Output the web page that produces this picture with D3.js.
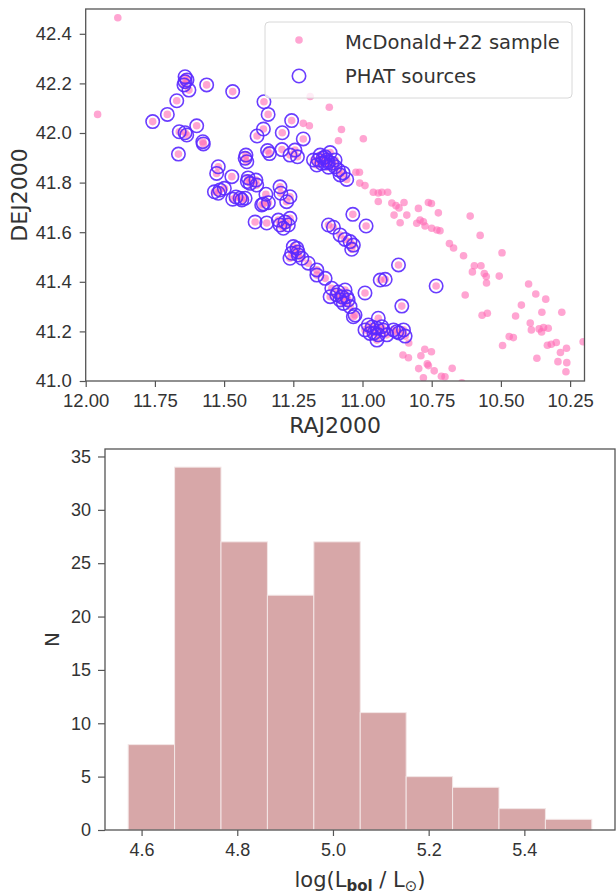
<!DOCTYPE html>
<html><head><meta charset="utf-8">
<script src="https://cdn.jsdelivr.net/npm/d3@7"></script>
<style>
body{margin:0;background:#fff}
svg{display:block}
</style>
</head><body>
<svg id="fig" width="616" height="894"></svg>
<script>
// PHAT sources (degrees)
const phatRA = [11.641,11.641,11.645,11.627,11.563,11.469,11.671,11.705,11.758,11.599,11.662,11.641,11.635,11.577,11.575,11.665,
  11.421,11.424,11.418,11.521,11.527,11.472,11.416,11.385,11.382,11.406,11.535,11.521,11.499,11.469,11.442,11.424,11.436,
  11.349,11.358,11.340,11.364,11.298,11.295,11.262,11.274,11.356,11.341,11.358,11.381,11.290,11.256,11.214,11.343,11.336,
  11.291,11.262,11.244,11.235,11.177,11.153,11.135,11.117,11.165,11.147,11.129,11.111,11.123,11.099,11.087,11.081,11.057,
  11.142,11.160,11.388,11.346,11.304,11.298,11.286,11.262,11.268,11.250,11.256,11.232,11.219,11.262,11.237,11.196,11.165,
  11.165,11.135,11.035,10.987,11.123,11.105,11.081,11.063,11.045,11.033,11.039,11.111,11.117,11.093,11.063,11.081,11.069,
  11.057,11.045,11.027,11.033,10.991,11.088,10.870,10.936,10.918,10.734,10.858,10.943,10.979,10.991,10.973,10.948,10.943,
  10.930,10.948,10.912,10.888,10.876,10.852,10.846,10.965,11.634,11.099,11.124,11.070,11.413,11.280,11.233,11.074,11.052,
  10.926,10.958,10.868,11.457,11.515,11.135];
const phatDec = [42.227,42.207,42.194,42.173,42.194,42.167,42.130,42.075,42.046,42.029,42.005,42.001,41.992,41.965,41.956,41.915,
  41.911,41.898,41.884,41.864,41.837,41.824,41.804,41.810,41.790,41.797,41.763,41.757,41.777,41.733,41.737,41.737,41.730,
  41.753,41.714,41.719,41.710,41.783,41.757,41.743,41.723,42.126,42.075,42.016,41.988,42.001,42.050,41.976,41.929,41.917,
  41.933,41.911,41.931,41.904,41.891,41.911,41.904,41.921,41.871,41.878,41.891,41.878,41.862,41.864,41.851,41.831,41.813,
  41.899,41.891,41.641,41.637,41.649,41.629,41.616,41.656,41.629,41.542,41.515,41.508,41.495,41.495,41.535,41.475,41.448,
  41.427,41.414,41.672,41.625,41.629,41.620,41.589,41.571,41.562,41.548,41.531,41.374,41.340,41.347,41.367,41.327,41.313,
  41.340,41.300,41.266,41.259,41.355,41.359,41.468,41.407,41.410,41.383,41.302,41.253,41.226,41.206,41.192,41.213,41.186,
  41.219,41.165,41.186,41.206,41.199,41.206,41.181,41.218,42.214,41.891,41.883,41.839,41.819,41.641,41.520,41.339,41.327,
  41.206,41.194,41.194,41.742,41.770,41.879];

// McDonald+22 sources with no PHAT counterpart (degrees)
const otherRA = [11.884,11.957,11.189,11.120,11.214,11.192,11.076,11.087,10.997,11.024,11.011,11.010,10.991,10.961,10.943,10.930,
  10.909,10.943,10.894,10.879,10.850,10.868,10.798,10.762,10.751,10.726,10.611,10.886,10.840,10.864,10.804,10.792,10.780,
  10.774,10.750,10.731,10.720,10.575,10.686,10.671,10.635,10.496,10.596,10.572,10.603,10.560,10.553,10.552,10.506,10.629,
  10.568,10.549,10.400,10.374,10.338,10.426,10.352,10.280,10.447,10.394,10.390,10.362,10.353,10.346,10.329,10.470,10.455,
  10.494,10.332,10.318,10.300,10.370,10.263,10.285,10.294,10.262,10.265,10.203,10.854,10.834,10.833,10.789,10.775,10.751,
  10.766,10.762,10.797,10.741,10.715,10.702,10.676,10.780,10.641];
const otherDec = [42.465,42.075,42.147,42.104,42.039,42.029,42.014,41.969,41.977,41.842,41.842,41.798,41.788,41.761,41.758,41.761,
  41.761,41.724,41.718,41.707,41.720,41.698,41.696,41.720,41.716,41.678,41.665,41.669,41.669,41.638,41.636,41.649,41.642,
  41.625,41.616,41.609,41.606,41.587,41.554,41.536,41.505,41.517,41.465,41.465,41.440,41.433,41.421,41.395,41.423,41.347,
  41.265,41.273,41.391,41.351,41.330,41.306,41.277,41.277,41.262,41.234,41.206,41.210,41.198,41.216,41.213,41.179,41.175,
  41.143,41.144,41.148,41.155,41.092,41.132,41.115,41.078,41.074,41.037,41.158,41.105,41.094,41.153,41.102,41.128,41.118,
  41.069,41.062,41.050,41.041,41.019,41.017,41.051,41.013,40.993];

const raTicks = [12.00, 11.75, 11.50, 11.25, 11.00, 10.75, 10.50, 10.25];
const decTicks = [41.0, 41.2, 41.4, 41.6, 41.8, 42.0, 42.2, 42.4];

// Bolometric luminosity histogram of the PHAT sources
const binEdges = [4.572, 4.669, 4.766, 4.863, 4.960, 5.057, 5.153, 5.250, 5.347, 5.444, 5.541];
const binCounts = [8, 34, 27, 22, 27, 11, 5, 4, 2, 1];
const lumTicks = [4.6, 4.8, 5.0, 5.2, 5.4];
const countTicks = [0, 5, 10, 15, 20, 25, 30, 35];

const svg = d3.select("#fig");
const TICKFONT = "'Liberation Sans', Arial, sans-serif";
const LABELFONT = "'DejaVu Sans', sans-serif";
const INK = "#333";
const SPINE = "#555";
const PINK = "#ff69b4";
const VIOLET = "#5a28ff";

function styleAxis(g, size) {
  g.select(".domain").remove();
  g.selectAll(".tick line").attr("stroke", SPINE).attr("stroke-width", 1.2);
  g.selectAll(".tick text").attr("fill", INK)
    .style("font-family", TICKFONT).style("font-size", size + "px");
}

// ---------- sky positions ----------
const skyBox = {l: 85.7, r: 584.5, t: 9, b: 381};
const xRA = d3.scaleLinear().domain([12.0, 10.198]).range([skyBox.l, skyBox.r]);
const yDec = d3.scaleLinear().domain([41.0, 42.5]).range([skyBox.b, skyBox.t]);

svg.append("clipPath").attr("id", "skyclip")
  .append("rect").attr("x", skyBox.l).attr("y", skyBox.t)
  .attr("width", skyBox.r - skyBox.l).attr("height", skyBox.b - skyBox.t);

const sky = svg.append("g").attr("clip-path", "url(#skyclip)");

const phat = phatRA.map((ra, i) => ({ra, dec: phatDec[i]}));
const sample = phat.concat(otherRA.map((ra, i) => ({ra, dec: otherDec[i]})));

sky.selectAll("circle.mcd").data(sample).join("circle")
  .attr("class", "mcd")
  .attr("cx", d => xRA(d.ra)).attr("cy", d => yDec(d.dec))
  .attr("r", 3.8).attr("fill", PINK).attr("fill-opacity", 0.6);

sky.selectAll("circle.phat").data(phat).join("circle")
  .attr("class", "phat")
  .attr("cx", d => xRA(d.ra)).attr("cy", d => yDec(d.dec))
  .attr("r", 6.7).attr("fill", "none")
  .attr("stroke", VIOLET).attr("stroke-width", 1.6).attr("stroke-opacity", 0.9);

svg.append("g").attr("transform", `translate(0,${skyBox.b})`)
  .call(d3.axisBottom(xRA).tickValues(raTicks).tickFormat(d3.format(".2f")).tickSize(6).tickPadding(7))
  .call(g => styleAxis(g, 18.5));
svg.append("g").attr("transform", `translate(${skyBox.l},0)`)
  .call(d3.axisLeft(yDec).tickValues(decTicks).tickFormat(d3.format(".1f")).tickSize(6).tickPadding(8))
  .call(g => styleAxis(g, 18.5));

svg.append("rect").attr("x", skyBox.l).attr("y", skyBox.t)
  .attr("width", skyBox.r - skyBox.l).attr("height", skyBox.b - skyBox.t)
  .attr("fill", "none").attr("stroke", SPINE).attr("stroke-width", 1.3);

svg.append("text").attr("x", (skyBox.l + skyBox.r) / 2).attr("y", 433)
  .attr("text-anchor", "middle").attr("fill", INK)
  .style("font-family", LABELFONT).style("font-size", "22px").text("RAJ2000");
svg.append("text").attr("transform", `translate(27,${(skyBox.t + skyBox.b) / 2}) rotate(-90)`)
  .attr("text-anchor", "middle").attr("fill", INK)
  .style("font-family", LABELFONT).style("font-size", "22px").text("DEJ2000");

// legend
const lg = svg.append("g");
lg.append("rect").attr("x", 265).attr("y", 22).attr("width", 307).attr("height", 76).attr("rx", 4)
  .attr("fill", "#fff").attr("fill-opacity", 0.8).attr("stroke", "#d8d8d8").attr("stroke-width", 1);
lg.append("circle").attr("cx", 299).attr("cy", 40).attr("r", 3.8)
  .attr("fill", PINK).attr("fill-opacity", 0.6);
lg.append("circle").attr("cx", 299).attr("cy", 76).attr("r", 6.7).attr("fill", "none")
  .attr("stroke", VIOLET).attr("stroke-width", 1.6).attr("stroke-opacity", 0.9);
lg.append("text").attr("x", 345).attr("y", 48.5).attr("fill", INK)
  .style("font-family", LABELFONT).style("font-size", "19.5px").text("McDonald+22 sample");
lg.append("text").attr("x", 345).attr("y", 83).attr("fill", INK)
  .style("font-family", LABELFONT).style("font-size", "19.5px").text("PHAT sources");

// ---------- luminosity histogram ----------
const histBox = {l: 105, r: 615, t: 449, b: 830};
const pad = 0.05 * (binEdges[binEdges.length - 1] - binEdges[0]);
const xL = d3.scaleLinear().domain([binEdges[0] - pad, binEdges[binEdges.length - 1] + pad]).range([histBox.l, histBox.r]);
const yN = d3.scaleLinear().domain([0, d3.max(binCounts) * 1.05]).range([histBox.b, histBox.t]);

svg.append("g").selectAll("rect").data(binCounts).join("rect")
  .attr("x", (d, i) => xL(binEdges[i]))
  .attr("width", (d, i) => xL(binEdges[i + 1]) - xL(binEdges[i]))
  .attr("y", d => yN(d)).attr("height", d => yN(0) - yN(d))
  .attr("fill", "#d7a7a8").attr("stroke", "#f3e6e6").attr("stroke-width", 1);

svg.append("g").attr("transform", `translate(0,${histBox.b})`)
  .call(d3.axisBottom(xL).tickValues(lumTicks).tickFormat(d3.format(".1f")).tickSize(6).tickPadding(7))
  .call(g => styleAxis(g, 18));
svg.append("g").attr("transform", `translate(${histBox.l},0)`)
  .call(d3.axisLeft(yN).tickValues(countTicks).tickFormat(d3.format("d")).tickSize(7).tickPadding(7))
  .call(g => styleAxis(g, 18));

svg.append("rect").attr("x", histBox.l).attr("y", histBox.t)
  .attr("width", histBox.r - histBox.l).attr("height", histBox.b - histBox.t)
  .attr("fill", "none").attr("stroke", SPINE).attr("stroke-width", 1.3);

svg.append("text").attr("transform", `translate(59,${(histBox.t + histBox.b) / 2}) rotate(-90)`)
  .attr("text-anchor", "middle").attr("fill", INK)
  .style("font-family", LABELFONT).style("font-size", "20px").text("N");

const xl = svg.append("text").attr("x", (histBox.l + histBox.r) / 2).attr("y", 887)
  .attr("text-anchor", "middle").attr("fill", INK)
  .style("font-family", LABELFONT).style("font-size", "21px");
xl.append("tspan").text("log(L");
xl.append("tspan").attr("dy", 4).style("font-size", "15px").style("font-weight", "bold").text("bol");
xl.append("tspan").attr("dy", -4).text(" / L");
xl.append("tspan").attr("dy", 4).style("font-size", "15px").text("\u2299");
xl.append("tspan").attr("dy", -4).text(")");
</script>
</body></html>
